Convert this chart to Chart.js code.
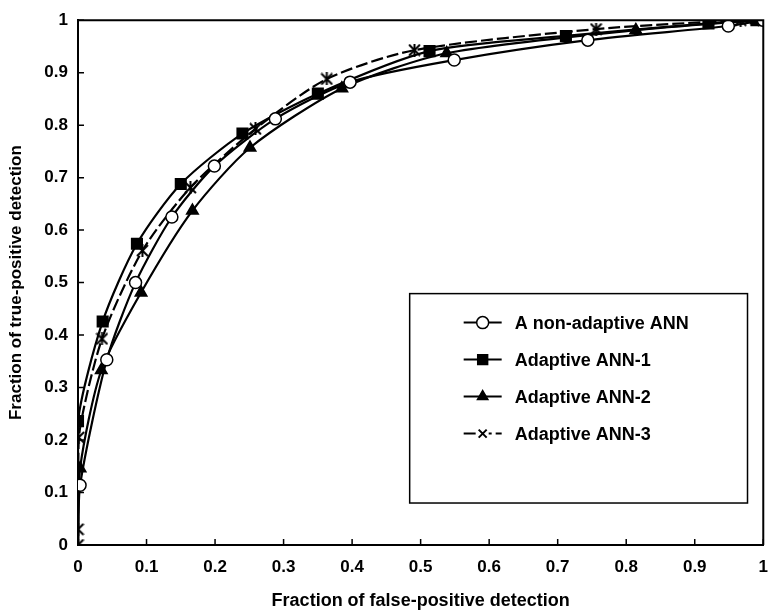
<!DOCTYPE html>
<html>
<head>
<meta charset="utf-8">
<script src="https://cdn.jsdelivr.net/npm/chart.js@4.4.1/dist/chart.umd.min.js"></script>
<style>
    html, body { margin: 0; padding: 0; background: #fff; }
    #wrap { width: 780px; height: 612px; }
</style>
</head>
<body>
<div id="wrap"><canvas id="rocChart" width="780" height="612"></canvas></div>
<script>
// ROC curves - fraction of false-positive vs true-positive detection

// Series names
var seriesNames = ['A non-adaptive ANN', 'Adaptive ANN-1', 'Adaptive ANN-2', 'Adaptive ANN-3'];

// A non-adaptive ANN (open circles)
var nonAdaptiveFp = [0, 0.003, 0.042, 0.084, 0.137, 0.199, 0.288, 0.397, 0.549, 0.744, 0.949, 1.0];
var nonAdaptiveTp = [0, 0.114, 0.353, 0.500, 0.625, 0.722, 0.812, 0.882, 0.924, 0.962, 0.989, 1.0];

// Adaptive ANN-1 (filled squares)
var ann1Fp = [0, 0, 0.036, 0.086, 0.150, 0.240, 0.350, 0.513, 0.712, 0.920, 0.990];
var ann1Tp = [0, 0.236, 0.426, 0.574, 0.688, 0.784, 0.860, 0.941, 0.970, 0.994, 1.0];

// Adaptive ANN-2 (filled triangles)
var ann2Fp = [0, 0.003, 0.034, 0.092, 0.167, 0.251, 0.385, 0.538, 0.814, 0.990];
var ann2Tp = [0, 0.146, 0.333, 0.481, 0.637, 0.757, 0.870, 0.937, 0.981, 1.0];

// Adaptive ANN-3 (star markers, dashed)
var ann3Fp = [0, 0, 0.001, 0.035, 0.094, 0.164, 0.259, 0.363, 0.491, 0.756, 0.967, 1.0];
var ann3Tp = [0, 0.030, 0.205, 0.393, 0.561, 0.681, 0.793, 0.888, 0.943, 0.983, 1.0, 1.0];

// Tick labels
var xTickValues = [0, 0.1, 0.2, 0.3, 0.4, 0.5, 0.6, 0.7, 0.8, 0.9, 1];
var yTickValues = [0, 0.1, 0.2, 0.3, 0.4, 0.5, 0.6, 0.7, 0.8, 0.9, 1];

var xTitle = 'Fraction of false-positive detection';
var yTitle = 'Fraction of true-positive detection';

var FONT = '"Liberation Sans", Arial, sans-serif';
var FONT_NARROW = '"Liberation Sans Narrow", "Liberation Sans", Arial, sans-serif';

// Build {x, y} points
function toPoints(xs, ys) {
    var pts = [];
    for (var i = 0; i < xs.length; i++) {
        pts.push({ x: xs[i], y: ys[i] });
    }
    return pts;
}

// Star marker: an x with a vertical bar (like Excel's star)
function makeStarMarker(size) {
    var c = document.createElement('canvas');
    c.width = size;
    c.height = size;
    var g = c.getContext('2d');
    g.strokeStyle = '#000';
    g.lineWidth = 2;
    g.beginPath();
    g.moveTo(1, 1); g.lineTo(size - 1, size - 1);
    g.moveTo(size - 1, 1); g.lineTo(1, size - 1);
    g.moveTo(size / 2, 0); g.lineTo(size / 2, size);
    g.stroke();
    return c;
}

var starMarker = makeStarMarker(13);

// Hide the marker on the (0,0) anchor point
function hideFirst(r) {
    return function(ctx) { return ctx.dataIndex === 0 ? 0 : r; };
}

var datasets = [
    {
        label: seriesNames[0],
        data: toPoints(nonAdaptiveFp, nonAdaptiveTp),
        borderColor: '#000',
        borderWidth: 2.2,
        pointStyle: 'circle',
        pointRadius: hideFirst(6),
        pointBackgroundColor: '#fff',
        pointBorderColor: '#000',
        pointBorderWidth: 1.5,
        tension: 0.25
    },
    {
        label: seriesNames[1],
        data: toPoints(ann1Fp, ann1Tp),
        borderColor: '#000',
        borderWidth: 2.2,
        pointStyle: 'rect',
        pointRadius: hideFirst(7),
        pointBackgroundColor: '#000',
        pointBorderColor: '#000',
        tension: 0.25
    },
    {
        label: seriesNames[2],
        data: toPoints(ann2Fp, ann2Tp),
        borderColor: '#000',
        borderWidth: 2.2,
        pointStyle: 'triangle',
        pointRadius: hideFirst(6),
        pointBackgroundColor: '#000',
        pointBorderColor: '#000',
        tension: 0.25
    },
    {
        label: seriesNames[3],
        data: toPoints(ann3Fp, ann3Tp),
        borderColor: '#000',
        borderWidth: 2.2,
        borderDash: [12, 4],
        pointStyle: starMarker,
        pointRadius: 6,
        tension: 0.25
    }
];

// Frame on top/right and inward tick marks
var framePlugin = {
    id: 'frame',
    afterDraw: function(chart) {
        var ctx = chart.ctx;
        var a = chart.chartArea;
        var xs = chart.scales.x;
        var ys = chart.scales.y;
        ctx.save();
        ctx.strokeStyle = '#000';
        ctx.lineWidth = 2;
        ctx.beginPath();
        ctx.moveTo(a.left, a.top);
        ctx.lineTo(a.right, a.top);
        ctx.lineTo(a.right, a.bottom);
        ctx.stroke();

        ctx.lineWidth = 1.5;
        ctx.beginPath();
        xTickValues.forEach(function(v) {
            var px = xs.getPixelForValue(v);
            ctx.moveTo(px, a.bottom);
            ctx.lineTo(px, a.bottom - 6);
        });
        yTickValues.forEach(function(v) {
            var py = ys.getPixelForValue(v);
            ctx.moveTo(a.left, py);
            ctx.lineTo(a.left + 6, py);
        });
        ctx.stroke();
        ctx.restore();
    }
};

// Boxed legend inside the plot area
var legendPlugin = {
    id: 'boxLegend',
    afterDraw: function(chart) {
        var ctx = chart.ctx;
        var xs = chart.scales.x;
        var ys = chart.scales.y;
        var left = xs.getPixelForValue(0.484);
        var right = xs.getPixelForValue(0.977);
        var top = ys.getPixelForValue(0.479);
        var bottom = ys.getPixelForValue(0.08);

        ctx.save();
        ctx.fillStyle = '#fff';
        ctx.fillRect(left, top, right - left, bottom - top);
        ctx.strokeStyle = '#000';
        ctx.lineWidth = 1.5;
        ctx.strokeRect(left, top, right - left, bottom - top);

        var rowGap = 37;
        var firstRow = top + 29;
        var lineX1 = left + 54;
        var lineX2 = left + 92;
        var textX = left + 105;

        ctx.font = 'bold 18px ' + FONT;
        ctx.textBaseline = 'middle';
        ctx.textAlign = 'left';

        chart.data.datasets.forEach(function(ds, i) {
            var cy = firstRow + i * rowGap;
            var mx = (lineX1 + lineX2) / 2;
            ctx.strokeStyle = '#000';
            ctx.lineWidth = 2;
            ctx.setLineDash(ds.borderDash || []);
            ctx.beginPath();
            ctx.moveTo(lineX1, cy);
            ctx.lineTo(lineX2, cy);
            ctx.stroke();
            ctx.setLineDash([]);

            var opts = {
                pointStyle: ds.pointStyle,
                radius: ds.pointStyle === 'rect' ? 7 : 6,
                rotation: 0,
                borderWidth: 1.5
            };
            ctx.fillStyle = ds.pointBackgroundColor || '#000';
            ctx.strokeStyle = '#000';
            ctx.lineWidth = 1.5;
            if (ds.pointStyle === starMarker) {
                // legend shows a plain small x
                ctx.fillStyle = '#fff';
                ctx.fillRect(mx - 6, cy - 6, 12, 12);
                ctx.lineWidth = 2;
                ctx.beginPath();
                ctx.moveTo(mx - 4, cy - 4); ctx.lineTo(mx + 4, cy + 4);
                ctx.moveTo(mx + 4, cy - 4); ctx.lineTo(mx - 4, cy + 4);
                ctx.stroke();
            } else {
                Chart.helpers.drawPoint(ctx, opts, mx, cy);
            }

            ctx.fillStyle = '#000';
            ctx.fillText(ds.label, textX, cy + 1);
        });
        ctx.restore();
    }
};

var chart = new Chart(document.getElementById('rocChart').getContext('2d'), {
    type: 'line',
    data: { datasets: datasets },
    options: {
        responsive: false,
        devicePixelRatio: 1,
        animation: false,
        layout: {
            padding: { top: 19, right: 10, left: 0, bottom: 0 }
        },
        plugins: {
            legend: { display: false },
            tooltip: { enabled: false }
        },
        scales: {
            x: {
                type: 'linear',
                min: 0,
                max: 1,
                afterBuildTicks: function(scale) {
                    scale.ticks = xTickValues.map(function(v) { return { value: v }; });
                },
                afterFit: function(scale) {
                    scale.height = 67;
                },
                grid: { display: false, drawTicks: false },
                border: { display: true, color: '#000', width: 2 },
                ticks: {
                    color: '#000',
                    padding: 12,
                    maxRotation: 0,
                    font: { family: FONT_NARROW, size: 17, weight: 'bold' },
                    callback: function(v) { return String(Math.round(v * 10) / 10); }
                },
                title: {
                    display: true,
                    text: xTitle,
                    color: '#000',
                    padding: { top: 6, bottom: 0 },
                    font: { family: FONT_NARROW, size: 18, weight: 'bold' }
                }
            },
            y: {
                type: 'linear',
                min: 0,
                max: 1,
                afterBuildTicks: function(scale) {
                    scale.ticks = yTickValues.map(function(v) { return { value: v }; });
                },
                afterFit: function(scale) {
                    scale.width = 78;
                },
                grid: { display: false, drawTicks: false },
                border: { display: true, color: '#000', width: 2 },
                ticks: {
                    color: '#000',
                    padding: 10,
                    font: { family: FONT, size: 17, weight: 'bold' },
                    callback: function(v) { return String(Math.round(v * 10) / 10); }
                },
                title: {
                    display: true,
                    text: yTitle,
                    color: '#000',
                    padding: { top: 6, bottom: 4 },
                    font: { family: FONT, size: 17, weight: 'bold' }
                }
            }
        }
    },
    plugins: [framePlugin, legendPlugin]
});
</script>
</body>
</html>
